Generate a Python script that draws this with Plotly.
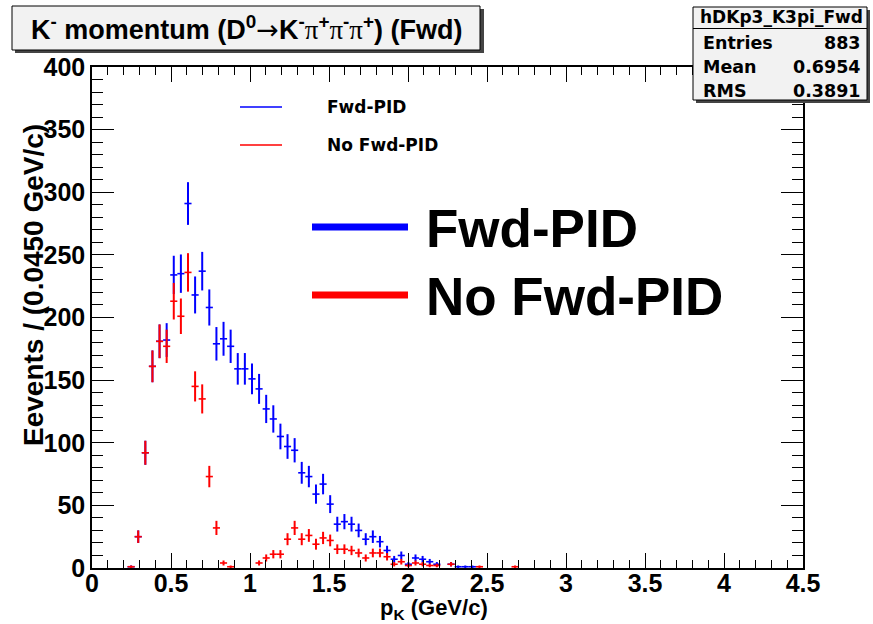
import math
import plotly.graph_objects as go

# ---------------- data ----------------
BIN_LOW = 0.0
BIN_WIDTH = 0.045
# bin index (0-based) for each series
fwd_pid_bins = [5, 6, 7, 8, 9, 10, 11, 12, 13, 14, 15, 16, 17, 18, 19, 20, 21, 22, 23, 24,
                25, 26, 27, 28, 29, 30, 31, 32, 33, 34, 35, 36, 37, 38, 39, 40, 41, 42, 43, 44,
                45, 46, 47, 48, 50, 51, 52, 53]
fwd_pid_counts = [1, 25, 92, 161, 181, 182, 234, 235, 291, 218, 237, 208, 179, 183, 177, 159, 159, 151, 143, 127,
                  119, 105, 97, 94, 76, 73, 59, 67, 51, 35, 37, 35, 30, 23, 25, 21, 14, 7, 10, 3,
                  8, 7, 5, 3, 3, 1, 1, 1]
no_fwd_pid_bins = [5, 6, 7, 8, 9, 10, 11, 12, 13, 14, 15, 16, 17, 18, 19, 23, 24,
                   25, 26, 27, 28, 29, 30, 31, 32, 33, 34, 35, 36, 37, 38, 39, 40, 41, 42, 43, 44,
                   45, 46, 47, 48, 50, 54, 59]
no_fwd_pid_counts = [1, 25, 92, 161, 181, 177, 213, 201, 236, 145, 135, 73, 32, 4, 1, 4, 8,
                     11, 11, 23, 32, 23, 26, 19, 24, 22, 15, 15, 14, 12, 8, 12, 12, 9, 3, 5, 2,
                     4, 3, 2, 2, 3, 1, 1]

x_tick_vals = [0, 0.5, 1, 1.5, 2, 2.5, 3, 3.5, 4, 4.5]
x_tick_text = ["0", "0.5", "1", "1.5", "2", "2.5", "3", "3.5", "4", "4.5"]
y_tick_vals = [0, 50, 100, 150, 200, 250, 300, 350, 400]
y_tick_text = ["0", "50", "100", "150", "200", "250", "300", "350", "400"]

stats_name = "hDKp3_K3pi_Fwd"
stats_rows = [("Entries", "883"), ("Mean", "0.6954"), ("RMS", "0.3891")]

# ---------------- layout geometry (pixels) ----------------
W, H = 873, 624
L, R, T, B = 92, 803, 67, 568
PW, PH = R - L, B - T

def fx(px):
    return (px - L) / PW

def fy(py):
    return (B - py) / PH

FONT = "Liberation Sans, Arial, sans-serif"
WIDE = "DejaVu Sans, Verdana, sans-serif"

def centers(bins):
    return [BIN_LOW + BIN_WIDTH * (b + 0.5) for b in bins]

def hist_trace(bins, counts, color, name):
    return go.Scatter(
        x=centers(bins), y=counts, name=name, mode="markers",
        marker=dict(size=1, color=color, opacity=0),
        error_x=dict(type="constant", value=BIN_WIDTH / 2, color=color, thickness=1.6, width=0),
        error_y=dict(type="data", array=[math.sqrt(c) for c in counts], color=color,
                     thickness=2, width=0),
        showlegend=False, hoverinfo="x+y",
    )

fig = go.Figure()
fig.add_trace(hist_trace(fwd_pid_bins, fwd_pid_counts, "#0000ff", "Fwd-PID"))
fig.add_trace(hist_trace(no_fwd_pid_bins, no_fwd_pid_counts, "#ff0000", "No Fwd-PID"))
# invisible trace to carry the mirrored (top/right) tick axes
fig.add_trace(go.Scatter(x=[0], y=[0], xaxis="x2", yaxis="y2", mode="markers",
                         marker=dict(opacity=0), showlegend=False, hoverinfo="skip"))

tickfont = dict(family=FONT, size=25, color="black", weight="bold")
base = dict(showgrid=False, zeroline=False, ticks="inside", tickcolor="black", tickwidth=1)

xminor = dict(dtick=0.1, ticklen=8, ticks="inside", tickcolor="black", tickwidth=1)
yminor = dict(dtick=10, ticklen=11, ticks="inside", tickcolor="black", tickwidth=1)

fig.update_layout(
    xaxis=dict(range=[0, 4.5], tickvals=x_tick_vals, ticktext=x_tick_text, ticklen=15,
               minor=xminor, showline=True, linecolor="black", linewidth=1.5, mirror=True,
               tickfont=tickfont, ticklabelstandoff=-8, **base),
    yaxis=dict(range=[0, 400], tickvals=y_tick_vals, ticktext=y_tick_text, ticklen=22,
               minor=yminor, showline=True, linecolor="black", linewidth=1.5, mirror=True,
               tickfont=tickfont, **base),
    xaxis2=dict(range=[0, 4.5], tickvals=x_tick_vals, ticklen=15, minor=xminor,
                overlaying="x", side="top", anchor="y2", showticklabels=False, **base),
    yaxis2=dict(range=[0, 400], tickvals=y_tick_vals, ticklen=22, minor=yminor,
                overlaying="y", side="right", anchor="x2", showticklabels=False, **base),
)

shapes = []
ann = []

def rect(x0, y0, x1, y1, fill, line_w=1, line_c="black"):
    shapes.append(dict(type="rect", xref="paper", yref="paper",
                       x0=fx(x0), x1=fx(x1), y0=fy(y1), y1=fy(y0),
                       fillcolor=fill, line=dict(width=line_w, color=line_c), layer="above"))

def hline(x0, x1, y, color, w):
    shapes.append(dict(type="line", xref="paper", yref="paper",
                       x0=fx(x0), x1=fx(x1), y0=fy(y), y1=fy(y),
                       line=dict(color=color, width=w), layer="above"))

def text(px, py, s, size, xanchor="center", family=FONT, bold=True, angle=0):
    ann.append(dict(xref="paper", yref="paper", x=fx(px), y=fy(py), text=s,
                    showarrow=False, xanchor=xanchor, yanchor="middle", textangle=angle,
                    font=dict(family=family, size=size, color="black",
                              weight="bold" if bold else "normal")))

# title box with shadow
rect(15, 9, 484, 53, "#444444", 0)
rect(12, 6, 480, 50, "#f2f2f2", 1)
pi = '<span style="font-family:Liberation Serif;font-weight:normal">π</span>'
arrow = '<span style="font-family:DejaVu Sans;font-weight:normal">→</span>'
title = ("K<sup>-</sup> momentum (D<sup>0</sup>" + arrow + "K<sup>-</sup>" + pi + "<sup>+</sup>" + pi +
         "<sup>-</sup>" + pi + "<sup>+</sup>) (Fwd)")
text(247, 28, title, 27)

# stats box with shadow
rect(696, 10, 870, 103, "#444444", 0)
rect(693, 7, 867, 100, "#f2f2f2", 1)
hline(693, 867, 28.5, "black", 1)
text(781, 17.5, stats_name, 17, family=WIDE)
for i, (k, v) in enumerate(stats_rows):
    yy = 43.5 + 23.5 * i
    text(701, yy, k, 17.5, xanchor="left", family=WIDE)
    text(863, yy, v, 17.5, xanchor="right", family=WIDE)

# small legend
hline(240, 282, 107, "#0000ff", 1.5)
text(325, 107, "Fwd-PID", 17, xanchor="left", family=WIDE)
hline(240, 282, 145, "#ff0000", 1.5)
text(325, 145, "No Fwd-PID", 17, xanchor="left", family=WIDE)

# big legend overlay
hline(312, 408, 227, "#0000ff", 7)
text(424, 228, "Fwd-PID", 53, xanchor="left")
hline(312, 408, 295, "#ff0000", 7)
text(424, 296, "No Fwd-PID", 53, xanchor="left")

# axis titles
text(434, 609, "p<sub>K</sub> (GeV/c)", 22)
text(33, 285, "Eevents / (0.0450 GeV/c)", 28, angle=-90)

fig.update_layout(
    width=W, height=H,
    margin=dict(l=L, r=W - R, t=T, b=H - B, pad=0),
    paper_bgcolor="white", plot_bgcolor="white",
    shapes=shapes, annotations=ann,
    showlegend=False,
)

fig.write_html("out.html")
